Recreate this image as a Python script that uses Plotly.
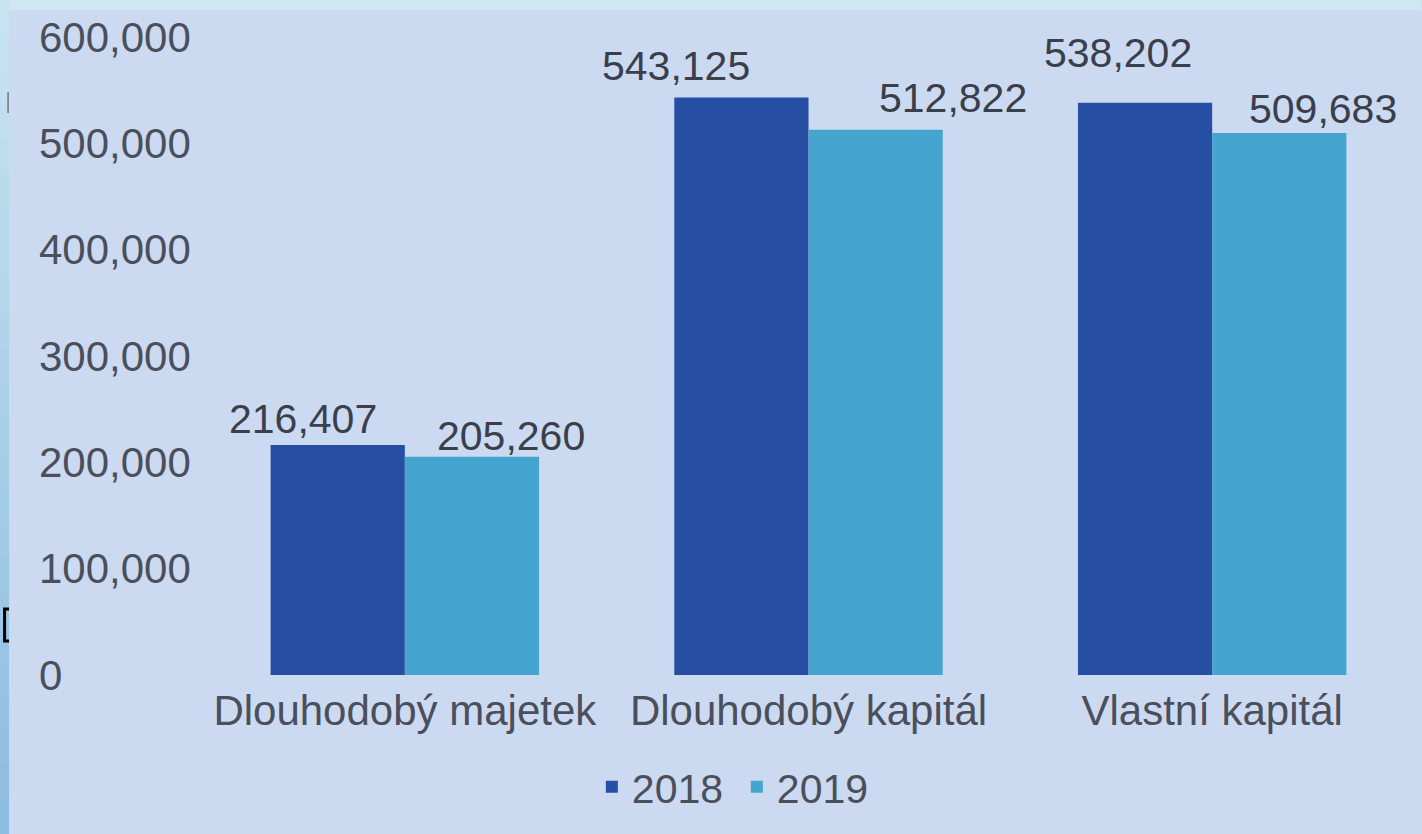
import plotly.graph_objects as go

# ---------------- data ----------------
categories = ["Dlouhodobý majetek", "Dlouhodobý kapitál", "Vlastní kapitál"]
series_names = ["2018", "2019"]
values_2018 = [216407, 543125, 538202]
values_2019 = [205260, 512822, 509683]
y_tick_values = [0, 100000, 200000, 300000, 400000, 500000, 600000]

# ---------------- layout geometry / style ----------------
W, H = 1422, 834
ML, MR, MT, MB = 203, 7.5, 37, 159
PW, PH = W - ML - MR, H - MT - MB

def px(x):
    return (x - ML) / PW

def py(y):
    return (H - MB - y) / PH

BG = "#CCDAF1"
C2018 = "#264EA3"
C2019 = "#45A5CF"
TICK_COLOR = "#4A4F5B"
LABEL_COLOR = "#3A3F4B"
FONT = "Liberation Sans, Arial, sans-serif"

# manual label offsets (px) relative to bar centre: (dx, dy) per series per category
label_dx = {"2018": [-34.5, -65.5, -27], "2019": [39, 77.5, 44]}
label_dy = {"2018": [26, 31, 50], "2019": [21, 31.5, 24]}

fig = go.Figure()
fig.add_trace(go.Bar(name=series_names[0], x=categories, y=values_2018,
                     marker=dict(color=C2018, line=dict(width=0))))
fig.add_trace(go.Bar(name=series_names[1], x=categories, y=values_2019,
                     marker=dict(color=C2019, line=dict(width=0))))

annotations = []
# y tick labels (left aligned)
for v in y_tick_values:
    annotations.append(dict(x=px(37), xref="paper", y=v, yref="y",
                            xanchor="left", yanchor="middle", showarrow=False,
                            text=f"{v:,}", font=dict(family=FONT, size=42, color=TICK_COLOR)))

# data labels
bar_half = 67.25
for name, vals, sign in [("2018", values_2018, -1), ("2019", values_2019, 1)]:
    for i, (c, v) in enumerate(zip(categories, vals)):
        annotations.append(dict(x=c, xref="x", y=v, yref="y",
                                xanchor="center", yanchor="middle", showarrow=False,
                                xshift=sign * bar_half + label_dx[name][i],
                                yshift=label_dy[name][i],
                                text=f"{v:,}",
                                font=dict(family=FONT, size=41, color=LABEL_COLOR)))

# decorative slide edges
shapes = []
shapes.append(dict(type="rect", xref="paper", yref="paper", layer="below",
                   x0=px(0), x1=px(W), y0=py(10), y1=py(0),
                   fillcolor="#CFE7F3", line=dict(width=0)))
n = 24
top_c = (200, 228, 241)
bot_c = (139, 188, 224)
for k in range(n):
    y0 = k * H / n
    y1 = min(H, (k + 1) * H / n + 2)
    t = (k + 0.5) / n
    col = tuple(round(top_c[j] + (bot_c[j] - top_c[j]) * t) for j in range(3))
    shapes.append(dict(type="rect", xref="paper", yref="paper", layer="below",
                       x0=px(0), x1=px(9), y0=py(y1), y1=py(y0),
                       fillcolor=f"rgb{col}", line=dict(width=0)))
# small artefacts on left edge
shapes.append(dict(type="line", xref="paper", yref="paper",
                   x0=px(8), x1=px(8), y0=py(92), y1=py(113),
                   line=dict(color="#777777", width=1.5)))
shapes.append(dict(type="path", xref="paper", yref="paper",
                   path=f"M {px(9)} {py(609)} L {px(4.5)} {py(609)} L {px(4.5)} {py(641)} L {px(9)} {py(641)}",
                   line=dict(color="#000000", width=3)))

fig.update_layout(
    width=W, height=H,
    margin=dict(l=ML, r=MR, t=MT, b=MB, pad=0),
    paper_bgcolor=BG, plot_bgcolor=BG,
    barmode="group", bargap=0.335, bargroupgap=0,
    font=dict(family=FONT, size=41, color=TICK_COLOR),
    xaxis=dict(range=[-0.5, 2.5], showgrid=False, zeroline=False, showline=False,
               ticks="", tickfont=dict(family=FONT, size=42, color=TICK_COLOR),
               ticklabelstandoff=7),
    yaxis=dict(range=[0, 600000], showgrid=False, zeroline=False, showline=False,
               showticklabels=False, ticks=""),
    showlegend=True,
    legend=dict(orientation="h", x=px(592), xanchor="left", y=py(787), yanchor="middle",
                font=dict(family=FONT, size=41, color=TICK_COLOR),
                entrywidth=100, entrywidthmode="pixels",
                bgcolor="rgba(0,0,0,0)", borderwidth=0, itemclick=False),
    annotations=annotations,
    shapes=shapes,
)

fig.write_html("out.html")
